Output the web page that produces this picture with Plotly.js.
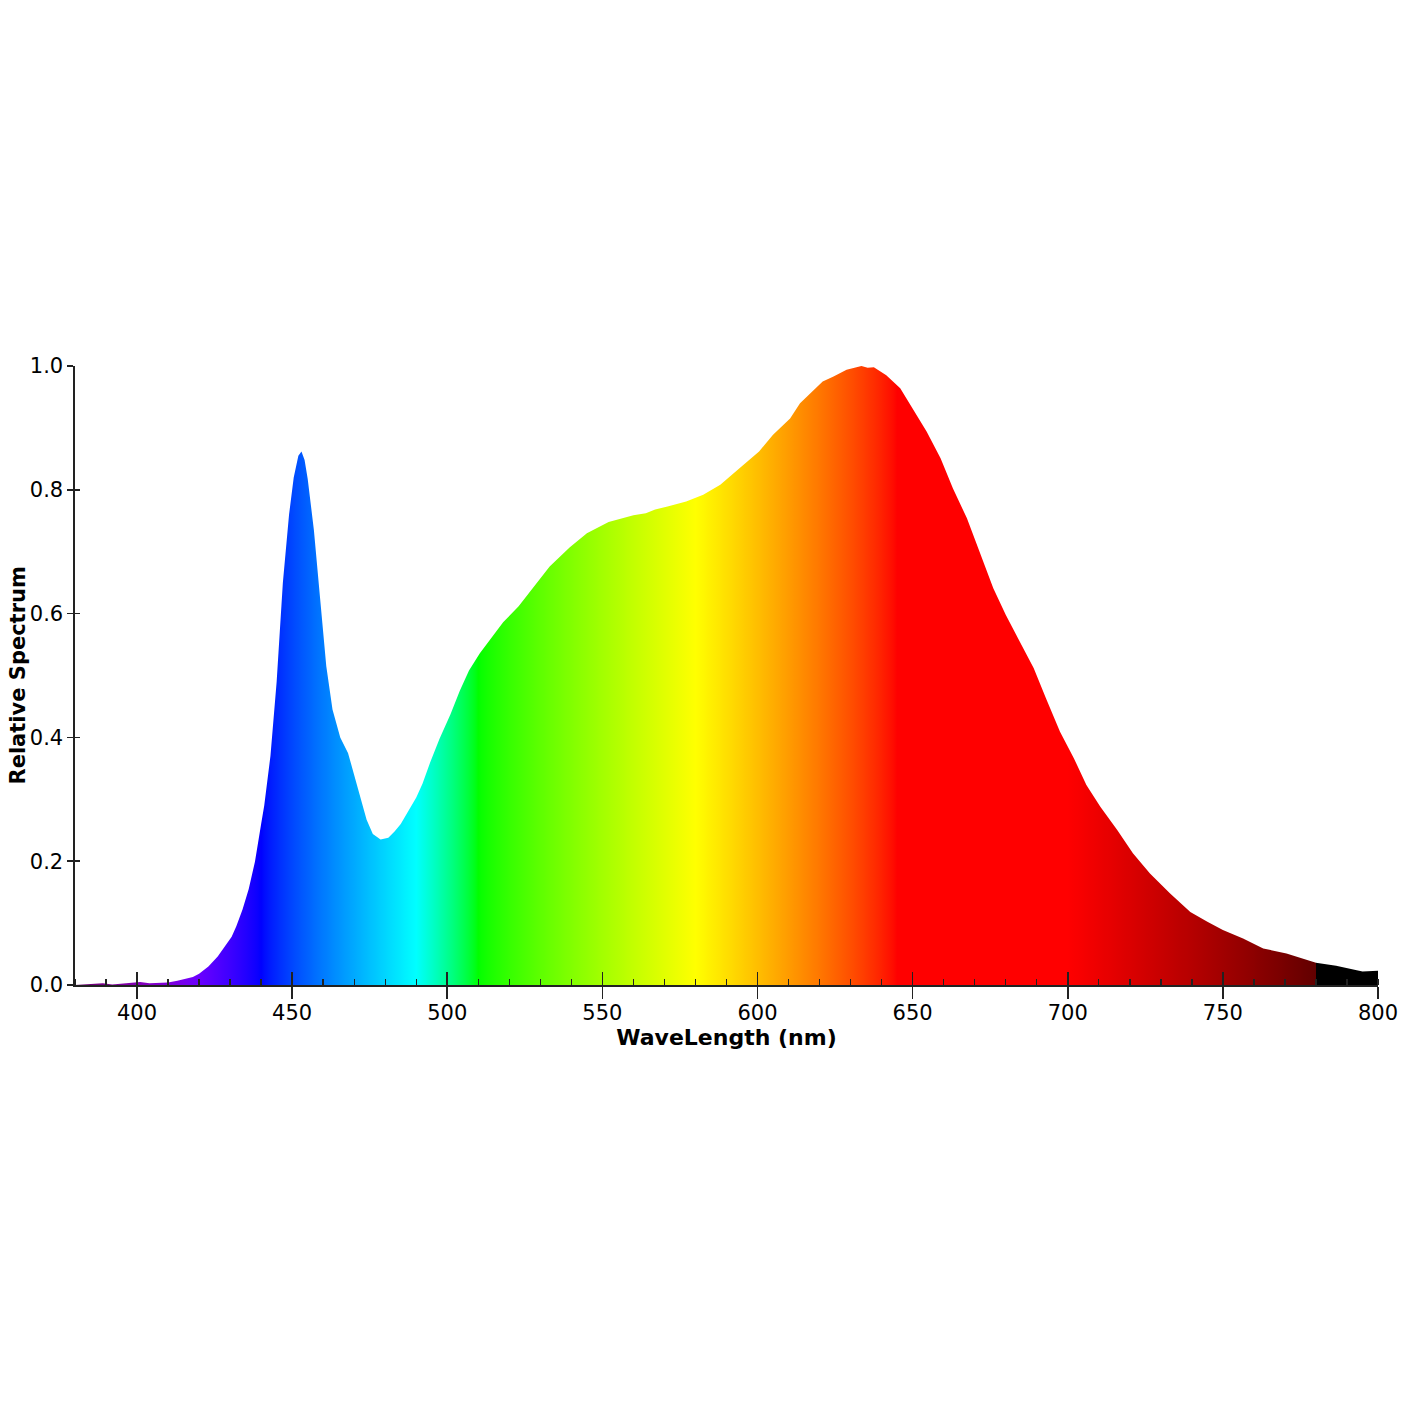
<!DOCTYPE html>
<html>
<head>
<meta charset="utf-8">
<script src="https://cdn.plot.ly/plotly-3.0.1.min.js"></script>
<style>html,body{margin:0;padding:0;background:#fff;}#chart{width:1420px;height:1420px;}</style>
</head>
<body>
<div id="chart"></div>
<script>
// Wavelength (nm) and relative spectral power
const wavelength = [380,383,386,389,392,395,398,401,404,407,410,413,416,418,420,423,426,428,430.5,432,434,436,438,440,441,443,445,447,449,450.5,452,453,454,455,457,459,461,463,465.5,468,471,474,476,478.5,481,483,485,488,490,492,494.5,497.5,501,504,507,510.5,514,518,523,528,533,539.5,545,552,557,560,564,567,571,577,582.5,588,594,600.5,605,610.5,613.7,617,621,624.5,628.7,633.5,635.5,637.5,641.5,646,650,654.5,659,663,667.5,671.5,676,680,684.5,689,693,697.5,702,706,710.5,716,721,726.5,733,739.5,745,750,756.5,763,770.5,776,780,786.5,793,795,800];
const relSpectrum = [0.0,0.001,0.002,0.003,0.001,0.002,0.003,0.005,0.003,0.003,0.004,0.007,0.010,0.013,0.018,0.030,0.046,0.060,0.078,0.095,0.122,0.155,0.199,0.26,0.29,0.37,0.49,0.65,0.76,0.82,0.855,0.862,0.848,0.818,0.735,0.625,0.515,0.445,0.400,0.375,0.320,0.267,0.244,0.235,0.238,0.248,0.260,0.285,0.303,0.325,0.360,0.398,0.437,0.475,0.508,0.536,0.560,0.586,0.612,0.645,0.676,0.707,0.730,0.748,0.755,0.759,0.762,0.768,0.773,0.781,0.792,0.808,0.834,0.862,0.889,0.915,0.94,0.956,0.975,0.983,0.994,1.0,0.997,0.998,0.985,0.964,0.932,0.894,0.851,0.802,0.754,0.70,0.641,0.598,0.555,0.512,0.463,0.409,0.366,0.323,0.288,0.250,0.213,0.180,0.148,0.118,0.102,0.089,0.075,0.059,0.051,0.042,0.036,0.031,0.025,0.022,0.023];
const xTickVals = [400,450,500,550,600,650,700,750,800];
const yTickVals = [0,0.2,0.4,0.6,0.8,1.0];
const yTickText = ['0.0','0.2','0.4','0.6','0.8','1.0'];
const xTitle = 'WaveLength (nm)';
const yTitle = 'Relative Spectrum';

const X_MIN = 380, X_MAX = 800;

// spectral colour of a wavelength (visible spectrum approximation)
function wlColor(w) {
  let r = 0, g = 0, b = 0;
  if (w >= 380 && w < 440) { r = -(w - 440) / 60; b = 1; }
  else if (w >= 440 && w < 490) { g = (w - 440) / 50; b = 1; }
  else if (w >= 490 && w < 510) { g = 1; b = -(w - 510) / 20; }
  else if (w >= 510 && w < 580) { r = (w - 510) / 70; g = 1; }
  else if (w >= 580 && w < 645) { r = 1; g = -(w - 645) / 65; }
  else if (w >= 645 && w <= 780) { r = 1; }
  let f = 0;
  if (w >= 380 && w < 420) f = 0.3 + 0.7 * (w - 380) / 40;
  else if (w >= 420 && w < 700) f = 1;
  else if (w >= 700 && w <= 780) f = 0.3 + 0.7 * (780 - w) / 80;
  const c = v => Math.round(255 * Math.pow(v * f, 0.8));
  return 'rgb(' + c(r) + ',' + c(g) + ',' + c(b) + ')';
}
const colorscale = [];
for (let w = X_MIN; w <= 780; w += 1) {
  colorscale.push([(w - X_MIN) / (X_MAX - X_MIN), wlColor(w)]);
}
colorscale.push([(780.01 - X_MIN) / (X_MAX - X_MIN), 'rgb(0,0,0)']);
colorscale.push([1, 'rgb(0,0,0)']);

const FONT = 'DejaVu Sans, sans-serif';

const traces = [
  {
    x: wavelength, y: relSpectrum, type: 'scatter', mode: 'lines',
    line: {width: 0, color: 'rgba(0,0,0,0)'},
    fill: 'tozeroy',
    fillgradient: {type: 'horizontal', colorscale: colorscale, start: X_MIN, stop: X_MAX},
    hoverinfo: 'x+y', showlegend: false
  },
  {
    x: wavelength, y: relSpectrum, type: 'scatter', mode: 'lines',
    xaxis: 'x2', yaxis: 'y2', opacity: 0, line: {width: 0},
    hoverinfo: 'skip', showlegend: false
  }
];

const layout = {
  width: 1420, height: 1420,
  paper_bgcolor: '#fff', plot_bgcolor: '#fff',
  margin: {l: 75, r: 42, t: 366, b: 435},
  font: {family: FONT, size: 21, color: '#000'},
  showlegend: false,
  xaxis: {
    range: [X_MIN, X_MAX], showgrid: false, zeroline: false,
    showline: true, linecolor: '#222', linewidth: 1.6,
    ticks: 'outside', ticklen: 12, tickwidth: 1.6, tickcolor: '#222',
    tickvals: xTickVals, ticktext: xTickVals.map(String),
    ticklabelstandoff: -4,
    tickfont: {family: FONT, size: 21, color: '#000'},
    minor: {ticks: 'inside', ticklen: 6, tickwidth: 1.4, tickcolor: '#222', dtick: 10, tick0: 0, showgrid: false},
    title: {text: '<b>' + xTitle + '</b>', font: {family: FONT, size: 22, color: '#000'}, standoff: 4}
  },
  yaxis: {
    range: [0, 1.0], showgrid: false, zeroline: false,
    showline: true, linecolor: '#222', linewidth: 1.6,
    ticks: 'outside', ticklen: 6, tickwidth: 1.6, tickcolor: '#222',
    tickvals: yTickVals, ticktext: yTickText,
    tickfont: {family: FONT, size: 21, color: '#000'}
  },
  xaxis2: {
    range: [X_MIN, X_MAX], overlaying: 'x', anchor: 'y2', showgrid: false, zeroline: false,
    showline: false, ticks: 'inside', ticklen: 13, tickwidth: 1.6, tickcolor: '#222',
    tickvals: xTickVals, showticklabels: false
  },
  yaxis2: {
    range: [0, 1.0], overlaying: 'y', anchor: 'x2', side: 'left', showgrid: false, zeroline: false,
    showline: false, ticks: 'inside', ticklen: 5, tickwidth: 1.6, tickcolor: '#222',
    tickvals: yTickVals, showticklabels: false
  },
  annotations: [{
    text: '<b>' + yTitle + '</b>', textangle: -90,
    xref: 'paper', yref: 'paper', x: 0, y: 0.5, xshift: -58, xanchor: 'center', yanchor: 'middle',
    showarrow: false, font: {family: FONT, size: 21, color: '#000'}
  }]
};

Plotly.newPlot('chart', traces, layout, {displayModeBar: false, staticPlot: true});
</script>
</body>
</html>
